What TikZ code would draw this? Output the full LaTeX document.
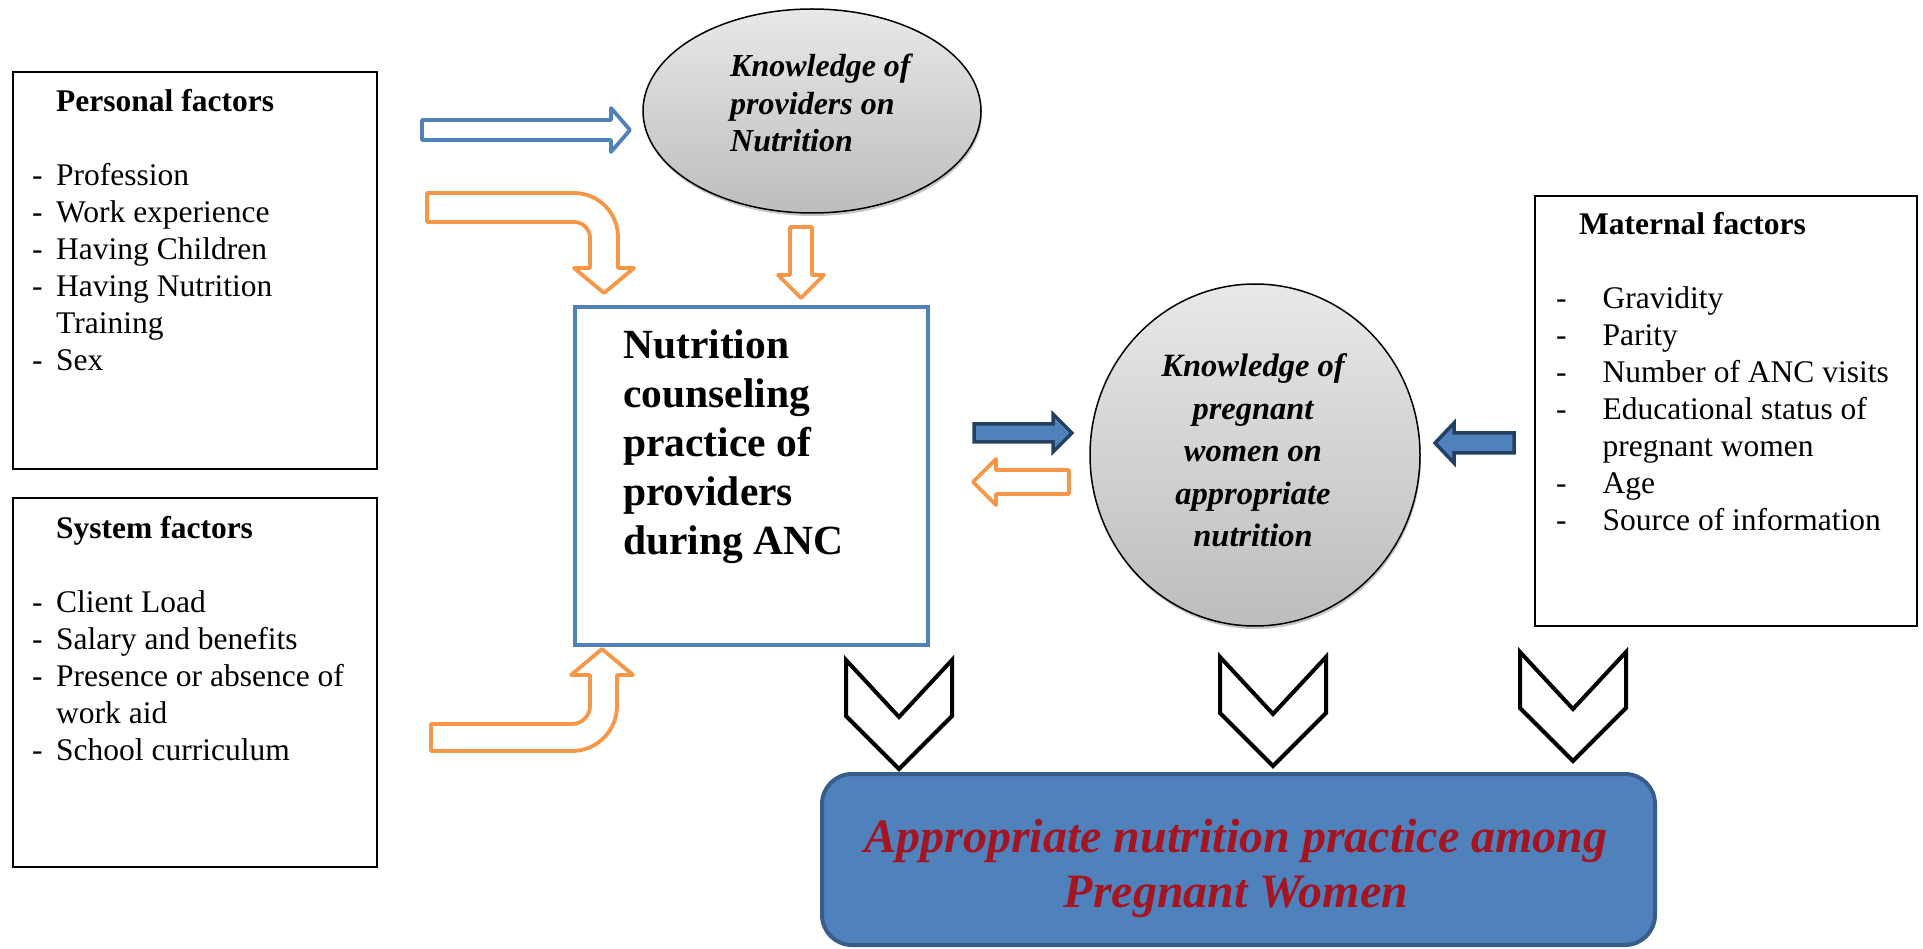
\documentclass[tikz,border=0pt]{standalone}
\usepackage{fontspec}
\setmainfont{Liberation Serif}
\usetikzlibrary{shapes.geometric,shadows}

\definecolor{accentblue}{RGB}{79,129,189}
\definecolor{deepblue}{RGB}{56,93,138}
\definecolor{navyedge}{RGB}{36,64,97}
\definecolor{orangeline}{RGB}{247,150,70}
\definecolor{titlered}{RGB}{163,21,33}

\begin{document}
\begin{tikzpicture}[x=1pt, y=-1pt,
  factorbox/.style={draw=black, line width=2.5pt, inner sep=0pt},
  listtext/.style={inner sep=0pt, font=\fontsize{31.5}{37}\selectfont},
  knowbubble/.style={ellipse, draw=black, line width=1.5pt, inner sep=0pt,
    top color=gray!18, bottom color=gray!52,
    drop shadow={shadow xshift=1pt, shadow yshift=-3pt, opacity=0.45}},
  hollowblue/.style={draw=accentblue, line width=3.8pt, fill=white, line join=round},
  hollowor/.style={draw=orangeline, line width=3.8pt, fill=white, line join=round},
  solidblue/.style={draw=navyedge, line width=3.5pt, fill=accentblue},
  chevron/.style={draw=black, line width=4pt, fill=white}]
\useasboundingbox (0,0) rectangle (1923,949);

% factor boxes
\node[factorbox, minimum width=364, minimum height=397] at (195,270.5) (personal) {};
\node[factorbox, minimum width=364, minimum height=369] at (195,682.5) (system) {};
\node[factorbox, minimum width=382, minimum height=430] at (1726,411) (maternal) {};

\node[listtext, anchor=base west] at (32,112) (personaltext) {\begin{tabular}[t]{@{}l@{\hspace{13.5pt}}l@{}}
 & \textbf{Personal factors}\\
 & \\
- & Profession\\
- & Work experience\\
- & Having Children\\
- & Having Nutrition\\
 & Training\\
- & Sex
\end{tabular}};

\node[listtext, anchor=base west] at (32,538) (systemtext) {\begin{tabular}[t]{@{}l@{\hspace{13.5pt}}l@{}}
 & \textbf{System factors}\\
 & \\
- & Client Load\\
- & Salary and benefits\\
- & Presence or absence of\\
 & work aid\\
- & School curriculum
\end{tabular}};

\node[listtext, anchor=base west] at (1556,235) (maternaltext) {\begin{tabular}[t]{@{}l@{\hspace{36pt}}l@{}}
\multicolumn{2}{@{\hspace{23pt}}l}{\textbf{Maternal factors}}\\
 & \\
- & Gravidity\\
- & Parity\\
- & Number of ANC visits\\
- & Educational status of\\
 & pregnant women\\
- & Age\\
- & Source of information
\end{tabular}};

% knowledge bubbles
\node[knowbubble, minimum width=338, minimum height=204] at (812,111) (provknow) {};
\node[knowbubble, minimum width=330, minimum height=342] at (1255,455) (pregknow) {};

\node[anchor=base west, inner sep=0pt, font=\bfseries\itshape\fontsize{32}{37.5}\selectfont] at (730,77) (provtext) {\begin{tabular}[t]{@{}l@{}}Knowledge of\\providers on\\Nutrition\end{tabular}};
\node[anchor=base, inner sep=0pt, font=\bfseries\itshape\fontsize{32.5}{42.5}\selectfont] at (1253,377) (pregtext) {\begin{tabular}[t]{@{}c@{}}Knowledge of\\pregnant\\women on\\appropriate\\nutrition\end{tabular}};

% counseling practice box
\node[draw=accentblue, line width=4pt, inner sep=0pt, minimum width=353, minimum height=338] at (751.5,476) (practice) {};
\node[anchor=base west, inner sep=0pt, font=\bfseries\fontsize{41.5}{49}\selectfont] at (623,359) (practicetext) {\begin{tabular}[t]{@{}l@{}}Nutrition\\counseling\\practice of\\providers\\during ANC\end{tabular}};

% outcome box
\node[draw=deepblue, fill=accentblue, line width=4pt, rounded corners=30pt, inner sep=0pt, minimum width=833, minimum height=171] at (1238.5,859.5) (outcome) {};
\node[anchor=base, inner sep=0pt, text=titlered, font=\bfseries\itshape\fontsize{48}{55}\selectfont] at (1236,852) (outcometext) {\begin{tabular}[t]{@{}c@{}}Appropriate nutrition practice among\\Pregnant Women\end{tabular}};

% block arrows
\draw[hollowblue] (422,120) -- (611,120) -- (611,108) -- (630,130) -- (611,152) -- (611,140) -- (422,140) -- cycle;

\draw[hollowor] (427,193) -- (574,193) .. controls (598.3,193) and (618,212.7) .. (618,237) -- (618,268) -- (634,268) -- (604,293) -- (574,268) -- (590,268) -- (590,238) .. controls (590,229.2) and (582.8,222) .. (574,222) -- (427,222) -- cycle;
\draw[hollowor] (790,227) -- (812,227) -- (812,275) -- (824,275) -- (801,298) -- (778,275) -- (790,275) -- cycle;
\draw[hollowor] (431,724) -- (572,724) .. controls (581.9,724) and (590,715.9) .. (590,706) -- (590,675) -- (571,675) -- (602,649) -- (633,675) -- (617,675) -- (617,706) .. controls (617,730.9) and (596.9,751) .. (572,751) -- (431,751) -- cycle;

\draw[solidblue] (974,424) -- (1053,424) -- (1053,414) -- (1072,433) -- (1053,452) -- (1053,442) -- (974,442) -- cycle;
\draw[hollowor] (1069,470) -- (996,470) -- (996,459) -- (973,482) -- (996,505) -- (996,494) -- (1069,494) -- cycle;
\draw[solidblue] (1514,433) -- (1454,433) -- (1454,423) -- (1435,443) -- (1454,463) -- (1454,453) -- (1514,453) -- cycle;

% chevrons
\foreach \cx/\ty in {899/660, 1273/657, 1573/652} {
  \draw[chevron] (\cx-53,\ty) -- (\cx,\ty+57) -- (\cx+53,\ty) -- (\cx+53,\ty+56) -- (\cx,\ty+109) -- (\cx-53,\ty+56) -- cycle;
}

\end{tikzpicture}
\end{document}
